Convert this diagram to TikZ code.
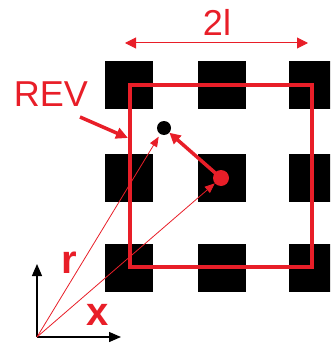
\documentclass[tikz,border=0pt]{standalone}
\usepackage{fontspec}
\setmainfont{Liberation Sans}
\usetikzlibrary{arrows.meta}
\definecolor{myred}{RGB}{232,30,40}
\begin{document}
\begin{tikzpicture}[x=1pt,y=-1pt,
  block/.style={fill=black},
  bigtext/.style={text=myred,inner sep=0pt,font=\fontsize{36}{36}\selectfont},
  boldtext/.style={text=myred,inner sep=0pt,font=\fontsize{40}{40}\selectfont\bfseries},
  dot/.style={circle,inner sep=0pt},
  thinarrow/.style={myred,line width=0.8pt,-{Triangle[length=10pt,width=8pt]}},
  axisarrow/.style={black,line width=1.3pt,-{Triangle[length=12pt,width=10pt]}}]
\useasboundingbox (0,0) rectangle (330,345);
\clip (0,0) rectangle (330,345);
% black blocks
\foreach \cx in {105,198,289}{
  \foreach \cy in {61,154,244}{
    \fill[block] (\cx,\cy) rectangle +(48,48);
  }
}
% REV square
\draw[myred,line width=4.3pt] (130,85) rectangle (312,267);
% 2l dimension
\coordinate (dl) at (125,43);
\coordinate (dr) at (308,43);
\draw[myred,line width=1pt,{Triangle[length=11pt,width=11pt]}-{Triangle[length=11pt,width=11pt]}] (dl) -- (dr);
\node[bigtext] (twol) at (217,22) {2l};
% REV label and arrow
\node[bigtext] (rev) at (51,94.5) {REV};
\coordinate (revtail) at (80,117);
\coordinate (revtip) at (128,138);
\draw[myred,line width=3.5pt,-{Triangle[length=12pt,width=11pt]}] (revtail) -- (revtip);
% dots
\node[dot,fill=black,minimum size=14pt] (bdot) at (164,128) {};
\node[dot,fill=myred,minimum size=16pt] (rdot) at (221,178) {};
\draw[myred,line width=3.5pt,-{Triangle[length=11pt,width=11pt]}] (rdot.center) -- (bdot);
% origin and axes
\coordinate (o) at (37,337);
\coordinate (yend) at (37,264);
\coordinate (xend) at (121,337);
\draw[axisarrow] (o) -- (yend);
\draw[axisarrow] (o) -- (xend);
% position vectors
\draw[thinarrow,shorten >=3pt] (o) -- (bdot);
\draw[thinarrow] (o) -- (rdot);
% labels
\node[boldtext] (rlab) at (69,262.5) {r};
\node[boldtext] (xlab) at (98,315) {x};
\end{tikzpicture}
\end{document}
